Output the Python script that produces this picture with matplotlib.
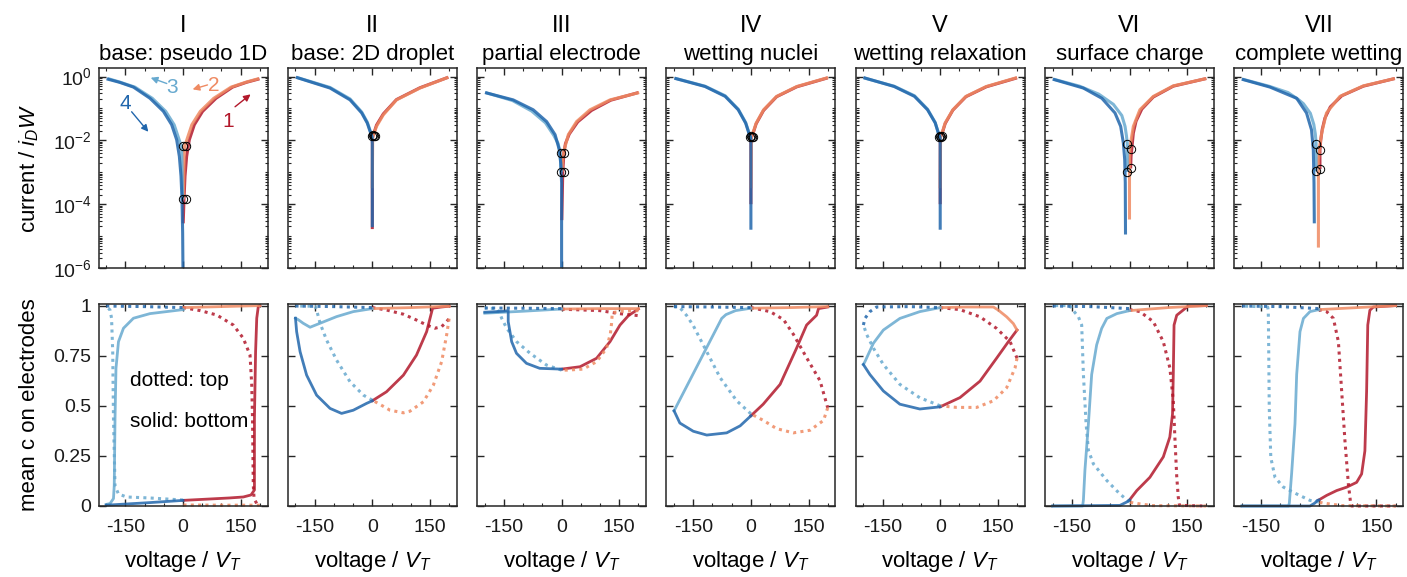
import numpy as np
import matplotlib.pyplot as plt
from matplotlib.ticker import MultipleLocator, LogLocator, NullFormatter

plt.rcParams['font.family'] = ['Liberation Sans', 'DejaVu Sans']
plt.rcParams['mathtext.fontset'] = 'custom'
plt.rcParams['mathtext.rm'] = 'Liberation Sans'
plt.rcParams['mathtext.it'] = 'Liberation Sans:italic'
plt.rcParams['axes.unicode_minus'] = False

numerals = ['I', 'II', 'III', 'IV', 'V', 'VI', 'VII']
subtitles = ['base: pseudo 1D', 'base: 2D droplet', 'partial electrode', 'wetting nuclei',
             'wetting relaxation', 'surface charge', 'complete wetting']

# sweep 1: 0 -> +200, 2: +200 -> 0, 3: 0 -> -200, 4: -200 -> 0
colors = {1: '#b2182b', 2: '#ef8a62', 3: '#67a9cf', 4: '#2166ac'}

# ---- current, log10(|i| / i_D W), per sweep: (voltage, log10 current)
cur_1 = {
    1: ([0.5, 2.6, 5.2, 9.5, 16.5, 29.5, 51, 86, 129, 165, 199], [-4.6, -3.85, -3.12, -2.5, -1.98, -1.51, -1.09, -0.68, -0.33, -0.18, -0.07]),
    2: ([198, 165, 125, 80, 45, 23, 10, 4, 3, 1], [-0.06, -0.17, -0.33, -0.68, -1.09, -1.51, -1.98, -2.19, -2.5, -3.85]),
    3: ([-1, -3, -4, -10, -23, -45, -80, -125, -165, -196], [-3.85, -2.5, -2.19, -1.98, -1.51, -1.09, -0.68, -0.33, -0.17, -0.06]),
    4: ([-199, -165, -129, -86, -51, -29.5, -16.5, -9.5, -5.2, -2.6, -0.9, 0], [-0.07, -0.18, -0.33, -0.68, -1.09, -1.51, -1.98, -2.5, -3.12, -3.85, -4.9, -6.2]),
}
cur_2 = {
    1: ([0, 0.2, 1, 4, 11, 28.6, 63, 124, 198], [-4.78, -2.0, -1.88, -1.78, -1.52, -1.17, -0.72, -0.35, -0.02]),
    2: ([198, 124, 63, 28.6, 11, 4, 1, 0], [-0.02, -0.36, -0.73, -1.2, -1.56, -1.8, -1.9, -3.5]),
    3: ([0, -1, -4.3, -13, -27.6, -58, -110, -198], [-2.0, -1.86, -1.74, -1.43, -1.11, -0.7, -0.34, -0.02]),
    4: ([-199, -110, -58, -27.6, -13, -4.3, -1, 0, 0.1], [-0.02, -0.36, -0.73, -1.14, -1.46, -1.77, -1.88, -2.1, -4.72]),
}
cur_3 = {
    1: ([0.5, 3, 6, 10, 20, 42, 78, 128, 200], [-4.5, -3.0, -2.39, -2.1, -1.8, -1.42, -1.06, -0.74, -0.5]),
    2: ([202, 126, 74, 39, 17.5, 7, 3, 1], [-0.5, -0.73, -1.04, -1.41, -1.82, -2.29, -2.6, -2.99]),
    3: ([-1, -4, -9, -20, -42, -78, -128, -198], [-2.99, -2.39, -2.1, -1.85, -1.45, -1.08, -0.75, -0.5]),
    4: ([-199.5, -126, -74, -39, -17, -6, -2.3, 0, 0], [-0.5, -0.73, -1.04, -1.41, -1.82, -2.29, -2.71, -3.33, -6.3]),
}
cur_4 = {
    1: ([0, 0.2, 1, 4, 13.6, 33, 67, 119.5, 200], [-4.0, -2.0, -1.9, -1.84, -1.48, -1.06, -0.63, -0.32, -0.04]),
    2: ([201, 119.5, 67, 33, 13.6, 4, 1, 0], [-0.03, -0.31, -0.62, -1.04, -1.46, -1.82, -1.9, -3.5]),
    3: ([0, -1, -4, -13.6, -33, -67, -119.5, -198], [-2.0, -1.88, -1.8, -1.44, -1.02, -0.6, -0.3, -0.05]),
    4: ([-199.5, -119.5, -67, -33, -13.6, -4, -1, 0, 0], [-0.05, -0.31, -0.62, -1.04, -1.46, -1.82, -1.9, -2.1, -4.8]),
}
cur_5 = {
    1: ([0, 0.2, 1, 4, 13, 33, 67, 120, 200], [-4.0, -2.0, -1.88, -1.82, -1.47, -1.05, -0.63, -0.32, -0.04]),
    2: ([200, 120, 67, 33, 13, 4, 1, 0], [-0.03, -0.31, -0.62, -1.04, -1.45, -1.8, -1.88, -3.5]),
    3: ([0, -1, -4, -13, -33, -67, -120, -199], [-2.0, -1.87, -1.8, -1.44, -1.02, -0.6, -0.3, -0.04]),
    4: ([-200, -120, -67, -33, -13, -4, -1, 0, 0], [-0.03, -0.31, -0.62, -1.04, -1.45, -1.8, -1.88, -2.1, -4.8]),
}
cur_6 = {
    1: ([3, 4, 5.7, 10, 17, 32, 62, 114, 200], [-2.88, -2.5, -2.3, -1.77, -1.4, -1.02, -0.64, -0.3, -0.06]),
    2: ([200, 114, 62, 27, 10, 3, 1, 0, 0], [-0.06, -0.29, -0.62, -1.04, -1.56, -2.08, -2.3, -2.6, -4.48]),
    3: ([-5.7, -5.7, -8, -11.6, -20, -42, -80, -130, -198], [-2.99, -2.1, -1.85, -1.56, -1.22, -0.87, -0.55, -0.3, -0.08]),
    4: ([-200, -120, -72, -37.8, -23, -16, -12.5, -11, -10.4], [-0.08, -0.36, -0.68, -1.14, -1.56, -2.08, -2.6, -3.33, -4.95]),
}
cur_7 = {
    1: ([3, 3, 5, 9, 16, 30, 60, 116, 198], [-2.9, -2.31, -2.0, -1.65, -1.3, -0.95, -0.6, -0.3, -0.06]),
    2: ([198, 116, 55, 20, 7.5, 1.3, -1, -1], [-0.06, -0.29, -0.62, -1.14, -1.77, -2.29, -2.6, -5.36]),
    3: ([-7, -7, -9, -13, -22, -40, -53, -80, -130, -199], [-2.97, -2.1, -1.8, -1.5, -1.15, -0.85, -0.72, -0.5, -0.3, -0.08]),
    4: ([-200.8, -127, -57.6, -32, -19, -14.3, -12.5, -11.7], [-0.08, -0.33, -0.68, -1.14, -1.67, -2.29, -3.33, -4.6]),
}

# circles at the sweep turning points near 0 V: (voltage, log10 current)
circ_1 = ([-1, 7, -1, 7], [-2.19, -2.19, -3.85, -3.85])
circ_2 = ([-1, 1.5, 4, 6.5], [-1.87, -1.83, -1.85, -1.87])
circ_3 = ([-1.5, 5, -1.5, 5], [-2.39, -2.39, -2.99, -2.99])
circ_4 = ([-2, 0.5, 3, 5], [-1.9, -1.86, -1.9, -1.88])
circ_5 = ([-3, -0.5, 2, 4], [-1.88, -1.85, -1.88, -1.86])
circ_6 = ([-5.7, 3, 3, -5.7], [-2.1, -2.27, -2.88, -2.99])
circ_7 = ([-7, 3, 3, -7], [-2.1, -2.31, -2.9, -2.97])

# ---- mean c on the bottom electrode (solid lines)
bot_1 = {
    1: ([0, 60, 120, 157, 177, 186, 186, 189, 192, 196, 200], [0.028, 0.034, 0.04, 0.045, 0.055, 0.08, 0.44, 0.77, 0.937, 0.995, 1.0]),
    2: ([200, 100, 0], [1.0, 0.995, 0.99]),
    3: ([0, -86, -129, -155, -168, -174.5, -177, -179, -181, -190, -200], [0.98, 0.96, 0.937, 0.887, 0.82, 0.687, 0.437, 0.103, 0.037, 0.012, 0.008]),
    4: ([-200, -86, 0], [0.004, 0.017, 0.028]),
}
bot_2 = {
    1: ([0, 37, 81, 115, 141.5, 157, 180, 200], [0.525, 0.57, 0.653, 0.753, 0.87, 0.987, 0.993, 0.997]),
    2: ([200, 100, 0], [0.997, 0.99, 0.985]),
    3: ([0, -49.5, -93, -136, -162, -180, -193, -200], [0.985, 0.97, 0.945, 0.912, 0.892, 0.912, 0.93, 0.937]),
    4: ([-200, -197, -188, -171, -145, -110, -80, -49.5, -15, 0], [0.937, 0.87, 0.77, 0.653, 0.553, 0.487, 0.462, 0.478, 0.512, 0.525]),
}
bot_3 = {
    1: ([0, 48, 91, 126, 152, 174, 200], [0.683, 0.695, 0.737, 0.82, 0.903, 0.95, 0.983]),
    2: ([200, 100, 0], [0.985, 0.985, 0.983]),
    3: ([0, -100, -200], [0.983, 0.972, 0.962]),
    4: ([-200, -150, -139, -139, -130, -117.5, -91.5, -57, 0], [0.967, 0.972, 0.975, 0.92, 0.82, 0.762, 0.712, 0.687, 0.683]),
}
bot_4 = {
    1: ([0, 32, 76, 119, 145, 171, 176, 200], [0.45, 0.508, 0.607, 0.788, 0.903, 0.952, 0.985, 0.993]),
    2: ([200, 100, 0], [0.995, 0.99, 0.987]),
    3: ([0, -40, -65, -76, -200], [0.987, 0.975, 0.955, 0.936, 0.475]),
    4: ([-200, -185, -150, -115, -63, -28, 0], [0.475, 0.414, 0.373, 0.354, 0.365, 0.40, 0.45]),
}
bot_5 = {
    1: ([0, 51.5, 103.6, 147, 177.5, 200], [0.495, 0.541, 0.623, 0.738, 0.82, 0.878]),
    2: ([200, 190.5, 173, 151.5, 138.5, 70, 0], [0.878, 0.91, 0.944, 0.977, 0.993, 0.993, 0.99]),
    3: ([0, -53, -105, -148, -174, -196, -200], [0.99, 0.97, 0.936, 0.878, 0.812, 0.72, 0.706]),
    4: ([-200, -183, -148, -105, -53, 0], [0.706, 0.656, 0.574, 0.508, 0.484, 0.495]),
}
bot_6 = {
    1: ([0, 19, 53, 88, 105, 112, 114, 116, 123, 144.5, 153, 200], [0.03, 0.077, 0.143, 0.245, 0.344, 0.459, 0.656, 0.903, 0.952, 0.985, 0.998, 1.0]),
    2: ([200, 100, 0], [1.0, 0.99, 0.975]),
    3: ([0, -33, -59, -72.5, -85.5, -98.5, -107, -116, -120, -122, -200], [0.975, 0.96, 0.936, 0.886, 0.804, 0.656, 0.41, 0.18, 0.03, 0.0, 0.0]),
    4: ([-200, -25, -7, 0], [0.0, 0.003, 0.02, 0.03]),
}
bot_7 = {
    1: ([0, 20.5, 46.5, 72.5, 98.5, 111.5, 120, 124.5, 127.5, 133, 142, 200], [0.03, 0.053, 0.077, 0.094, 0.118, 0.16, 0.275, 0.574, 0.903, 0.977, 0.993, 1.0]),
    2: ([200, 100, 0], [1.0, 0.99, 0.98]),
    3: ([0, -23, -40, -49, -57.6, -62, -70.7, -76.7, -78.5, -200], [0.98, 0.97, 0.936, 0.87, 0.656, 0.41, 0.163, 0.015, 0.0, 0.0]),
    4: ([-200, -23, -10, -4, 0], [0.0, 0.0, 0.015, 0.028, 0.03]),
}

# ---- mean c on the top electrode (dotted lines)
top_1 = {
    1: ([0, 45, 88, 131, 157, 174.5, 179, 181, 183, 185, 192, 200], [0.99, 0.975, 0.953, 0.903, 0.837, 0.753, 0.603, 0.437, 0.103, 0.037, 0.012, 0.005]),
    2: ([200, 100, 0], [0.004, 0.004, 0.005]),
    3: ([0, -86, -147, -168, -177, -181, -183, -186, -190, -199], [0.03, 0.04, 0.045, 0.06, 0.1, 0.437, 0.77, 0.937, 0.978, 0.995]),
    4: ([-200, -100, 0], [0.998, 0.995, 0.99]),
}
top_2 = {
    1: ([0, 37, 81, 115, 141.5, 163, 180.5, 193.5, 200], [0.99, 0.978, 0.957, 0.928, 0.903, 0.887, 0.895, 0.92, 0.935]),
    2: ([200, 193.5, 180.5, 159, 133, 98, 81, 46, 20, 0], [0.935, 0.853, 0.72, 0.603, 0.52, 0.473, 0.465, 0.478, 0.507, 0.528]),
    3: ([0, -23, -58, -93, -119, -136, -145, -149, -200], [0.528, 0.553, 0.62, 0.728, 0.828, 0.912, 0.978, 0.997, 0.998]),
    4: ([-200, -100, 0], [0.998, 0.995, 0.99]),
}
top_3 = {
    1: ([0, 100, 150, 200], [0.982, 0.975, 0.96, 0.95]),
    2: ([200, 160, 132, 130, 127, 117, 91, 56, 13, 0], [0.975, 0.972, 0.965, 0.91, 0.86, 0.787, 0.72, 0.683, 0.678, 0.678]),
    3: ([0, -39, -82, -117, -143, -156, -161, -170, -200], [0.678, 0.703, 0.762, 0.82, 0.887, 0.937, 0.962, 0.985, 0.988]),
    4: ([-200, -100, 0], [0.988, 0.987, 0.985]),
}
top_4 = {
    1: ([0, 50, 85, 110.5, 145, 180, 200], [0.99, 0.97, 0.93, 0.857, 0.74, 0.625, 0.49]),
    2: ([200, 189, 154, 110.5, 67, 32.5, 0], [0.49, 0.427, 0.378, 0.365, 0.386, 0.427, 0.46]),
    3: ([0, -37, -80, -115, -150, -167, -185, -200], [0.46, 0.525, 0.64, 0.77, 0.90, 0.95, 0.99, 0.995]),
    4: ([-200, -100, 0], [0.995, 0.993, 0.99]),
}
top_5 = {
    1: ([0, 51.5, 103.6, 147, 182, 200], [0.99, 0.98, 0.944, 0.886, 0.82, 0.738]),
    2: ([200, 195, 173, 138.5, 95, 43, 0], [0.738, 0.69, 0.59, 0.525, 0.492, 0.492, 0.5]),
    3: ([0, -53, -105, -148, -174, -191, -200], [0.5, 0.54, 0.607, 0.706, 0.788, 0.854, 0.903]),
    4: ([-200, -196, -183, -165.5, -80, 0], [0.903, 0.936, 0.97, 0.993, 0.995, 0.99]),
}
top_6 = {
    1: ([0, 27, 62, 88, 105, 114, 118.5, 123, 127, 130, 200], [0.98, 0.97, 0.92, 0.82, 0.69, 0.525, 0.327, 0.146, 0.044, 0.003, 0.0]),
    2: ([200, 60, 10, 0], [0.0, 0.002, 0.015, 0.02]),
    3: ([0, -25, -59, -94, -107, -113, -120, -124.5, -133, -150.5, -155, -200], [0.02, 0.06, 0.127, 0.21, 0.278, 0.41, 0.656, 0.903, 0.944, 0.985, 1.0, 1.0]),
    4: ([-200, -100, 0], [0.998, 0.995, 0.985]),
}
top_7 = {
    1: ([0, 20.5, 38, 51, 59.5, 68, 77, 83, 85.6, 200], [0.98, 0.97, 0.936, 0.82, 0.574, 0.327, 0.11, 0.012, 0.0, 0.0]),
    2: ([200, 60, 10, 0], [0.0, 0.002, 0.015, 0.02]),
    3: ([0, -23, -57.6, -92, -114, -125, -129, -130.6, -131.5, -133, -200], [0.02, 0.028, 0.06, 0.094, 0.143, 0.242, 0.49, 0.82, 0.97, 0.993, 0.998]),
    4: ([-200, -100, 0], [0.998, 0.995, 0.985]),
}

currents = [cur_1, cur_2, cur_3, cur_4, cur_5, cur_6, cur_7]
circles = [circ_1, circ_2, circ_3, circ_4, circ_5, circ_6, circ_7]
bottoms = [bot_1, bot_2, bot_3, bot_4, bot_5, bot_6, bot_7]
tops = [top_1, top_2, top_3, top_4, top_5, top_6, top_7]

W, H = 1407, 577
fig = plt.figure(figsize=(W / 100, H / 100), dpi=100)
frame = '#262626'


def style(ax):
    ax.set_xlim(-220, 220)
    ax.set_xticks([-150, 0, 150])
    ax.xaxis.set_minor_locator(MultipleLocator(50))
    ax.tick_params(which='both', direction='in', top=True, right=True, color=frame,
                   labelsize=14, labelcolor='#1a1a1a')
    ax.tick_params(which='major', length=5, width=1)
    ax.tick_params(which='minor', length=2.5, width=0.8)
    for s in ax.spines.values():
        s.set_color(frame)
        s.set_linewidth(1.1)


for k in range(7):
    left = (98.5 + 189.3 * k) / W
    ax_t = fig.add_axes([left, 1 - 268 / H, 169 / W, 200.3 / H])
    ax_b = fig.add_axes([left, 1 - 506 / H, 169 / W, 202 / H])

    # current panel
    for s in [1, 2, 3, 4]:
        v, li = currents[k][s]
        ax_t.plot(v, np.power(10.0, li), color=colors[s], lw=2.2, alpha=0.85,
                  solid_capstyle='butt', solid_joinstyle='round')
    cv, ci = circles[k]
    ax_t.plot(cv, np.power(10.0, ci), 'o', ms=6, mfc='none', mec='k', mew=0.7)
    ax_t.set_yscale('log')
    ax_t.set_ylim(1e-6, 1.9)
    style(ax_t)
    ax_t.set_yticks([1e-6, 1e-4, 1e-2, 1e0])
    ax_t.yaxis.set_minor_locator(LogLocator(base=10, subs=np.arange(1, 10), numticks=30))
    ax_t.yaxis.set_minor_formatter(NullFormatter())
    ax_t.set_xticklabels([])
    if k == 0:
        ax_t.set_yticklabels(['$10^{-6}$', '$10^{-4}$', '$10^{-2}$', '$10^{0}$'])
        ax_t.tick_params(axis='y', pad=5)
    else:
        ax_t.set_yticklabels([])

    # coverage panel
    for s in [1, 2, 3, 4]:
        v, c = bottoms[k][s]
        ax_b.plot(v, c, color=colors[s], lw=2.0, alpha=0.85, clip_on=False,
                  solid_joinstyle='round')
        v, c = tops[k][s]
        ax_b.plot(v, c, color=colors[s], lw=2.2, alpha=0.85, ls=(0, (1.0, 1.4)),
                  clip_on=False)
    ax_b.set_ylim(0, 1.008)
    style(ax_b)
    ax_b.set_yticks([0, 0.25, 0.5, 0.75, 1])
    ax_b.set_xticklabels(['-150', '0', '150'])
    ax_b.tick_params(axis='x', pad=9)
    if k == 0:
        ax_b.set_yticklabels(['0', '0.25', '0.5', '0.75', '1'])
        ax_b.tick_params(axis='y', pad=5)
    else:
        ax_b.set_yticklabels([])

    xc = (98.5 + 189.3 * k + 84.5) / W
    fig.text(xc, 1 - 32 / H, numerals[k], ha='center', va='baseline', fontsize=17)
    fig.text(xc, 1 - 60 / H, subtitles[k], ha='center', va='baseline', fontsize=16)
    fig.text(xc, 1 - 567 / H, 'voltage / $V_T$', ha='center', va='baseline', fontsize=16)

    if k == 0:
        ax_sweep = ax_t
        ax_note = ax_b

fig.text(29 / W, 1 - 168 / H, 'current / $i_D W$', rotation=90, ha='center', va='center',
         fontsize=16)
fig.text(30 / W, 1 - 405 / H, 'mean c on electrodes', rotation=90, ha='center', va='center',
         fontsize=16)

# sweep direction labels in panel I
sweep_labels = [('1', (0.768, 0.73), (0.808, 0.805), (0.90, 0.867)),
                ('2', (0.679, 0.909), (0.645, 0.914), (0.557, 0.892)),
                ('3', (0.433, 0.90), (0.404, 0.921), (0.309, 0.95)),
                ('4', (0.157, 0.822), (0.196, 0.78), (0.295, 0.68))]
for lab, txy, tail, head in sweep_labels:
    s = int(lab)
    ax_sweep.text(txy[0], txy[1], lab, transform=ax_sweep.transAxes, color=colors[s],
                  ha='center', va='center', fontsize=15)
    ax_sweep.annotate('', xy=head, xytext=tail, xycoords='axes fraction',
                      textcoords='axes fraction',
                      arrowprops=dict(arrowstyle='-|>', color=colors[s], lw=1.0,
                                      mutation_scale=10, shrinkA=0, shrinkB=0))

ax_note.text(0.186, 0.62, 'dotted: top', transform=ax_note.transAxes, fontsize=15,
             ha='left', va='center')
ax_note.text(0.186, 0.42, 'solid: bottom', transform=ax_note.transAxes, fontsize=15,
             ha='left', va='center')

fig.savefig('out.png', dpi=100)
